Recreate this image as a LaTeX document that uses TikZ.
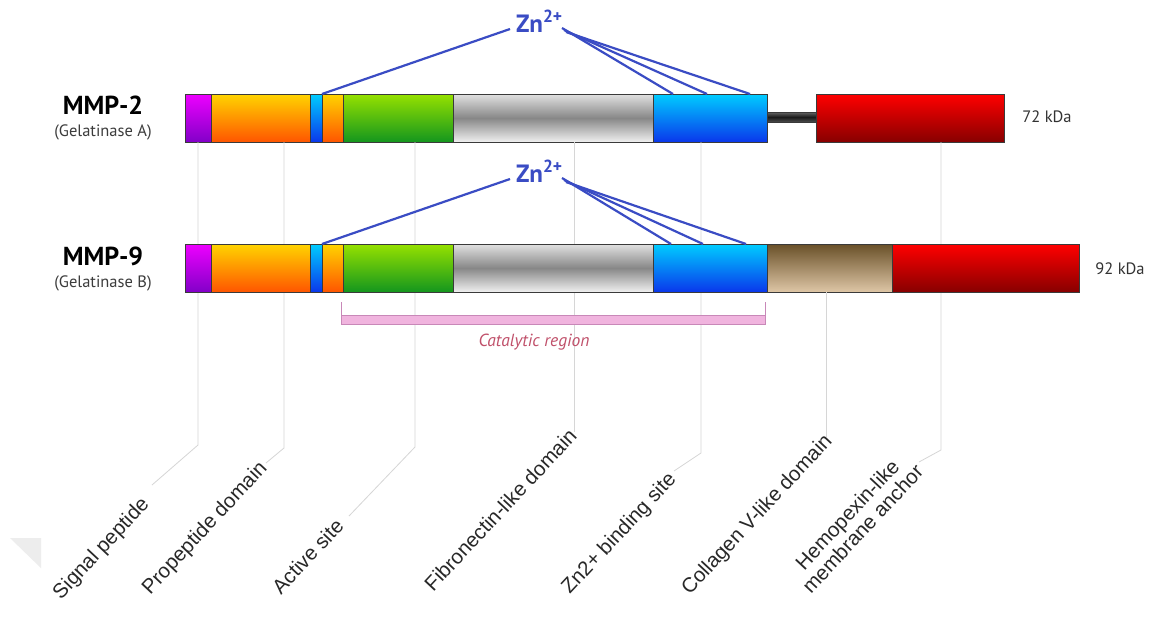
\documentclass[tikz,border=0pt]{standalone}
\usepackage{fontspec}
\usetikzlibrary{calc}
\setmainfont{PT Sans}
\newfontfamily\arialf{Liberation Sans}
\begin{document}
\definecolor{segline}{HTML}{3A3A3A}
\definecolor{znblue}{HTML}{3A4CC4}
\definecolor{leadgray}{HTML}{D6D6D6}
\definecolor{catpink}{HTML}{F0B4DE}
\definecolor{catedge}{HTML}{C888B8}
\definecolor{cattext}{HTML}{C0506A}
\begin{tikzpicture}[x=1pt,y=-1pt,
  seg/.style={draw=segline, line width=0.9pt, minimum height=48pt, inner sep=0pt, outer sep=0pt, anchor=north west},
  purp/.style={top color={rgb,255:red,238;green,0;blue,255}, bottom color={rgb,255:red,130;green,0;blue,200}},
  oran/.style={top color={rgb,255:red,255;green,212;blue,0}, bottom color={rgb,255:red,255;green,85;blue,0}},
  blu/.style={top color={rgb,255:red,0;green,205;blue,255}, bottom color={rgb,255:red,10;green,55;blue,235}},
  gre/.style={top color={rgb,255:red,150;green,225;blue,0}, bottom color={rgb,255:red,20;green,150;blue,30}},
  gra/.style={top color={rgb,255:red,225;green,225;blue,225}, bottom color={rgb,255:red,240;green,240;blue,240}, middle color={rgb,255:red,135;green,135;blue,135}},
  redc/.style={top color={rgb,255:red,255;green,0;blue,0}, bottom color={rgb,255:red,135;green,0;blue,0}},
  brow/.style={top color={rgb,255:red,105;green,80;blue,40}, bottom color={rgb,255:red,222;green,198;blue,166}},
  leader/.style={draw=leadgray, line width=0.8pt},
  znline/.style={draw=znblue, line width=2.2pt},
  lab/.style={font=\arialf\fontsize{20.5}{21}\selectfont, text={rgb,255:red,40;green,40;blue,40}, inner sep=0pt, rotate=47, anchor=base east},
  mmp/.style={font=\bfseries\fontsize{26}{26}\selectfont, inner sep=0pt},
  gel/.style={font=\fontsize{16.5}{16.5}\selectfont, text={rgb,255:red,60;green,60;blue,60}, inner sep=0pt},
  kda/.style={font=\fontsize{16.5}{17}\selectfont, text={rgb,255:red,50;green,50;blue,50}, inner sep=0pt},
  zn/.style={font=\bfseries\fontsize{25}{25}\selectfont, text=znblue, inner sep=0pt, anchor=base west}
]
\useasboundingbox (0,0) rectangle (1157,619);
\fill[white] (0,0) rectangle (1157,619);
% faint corner triangle
\fill[black!7] (10,538) -- (41,538) -- (41,568) -- cycle;

% ---------- MMP-2 bar ----------
\node[seg, purp, minimum width=26pt] (p2sig) at (185,94) {};
\node[seg, oran, minimum width=99pt] (p2pro) at (211,94) {};
\node[seg, blu, minimum width=12pt] (p2bs) at (310,94) {};
\node[seg, oran, minimum width=21pt] (p2act) at (322,94) {};
\node[seg, gre, minimum width=110pt] (p2fib) at (343,94) {};
\node[seg, gra, minimum width=200pt] (p2gray) at (453,94) {};
\node[seg, blu, minimum width=114pt] (p2zn) at (653,94) {};
\node[seg, redc, minimum width=188pt] (p2red) at (816,94) {};
\node[draw=segline, line width=0.6pt, minimum width=49pt, minimum height=10pt, inner sep=0pt, outer sep=0pt,
  top color=black!60, bottom color=black!70, middle color=black!90, anchor=west] (p2link) at (767,117) {};

% ---------- leader coordinates ----------
\coordinate (bsig) at (198,445); \coordinate (esig) at (152,485);
\coordinate (bpro) at (284,448); \coordinate (epro) at (266,463);
\coordinate (bact) at (415,447); \coordinate (eact) at (349,516);
\coordinate (efib) at (574,432);
\coordinate (bzn) at (701,453);  \coordinate (ezn) at (674,471);
\coordinate (ecol) at (826,437);
\coordinate (bhem) at (941,450); \coordinate (ehem) at (919,462);

% leaders (behind the MMP-9 bar)
\draw[leader] (bsig |- p2sig.south) -- (bsig) -- (esig);
\draw[leader] (bpro |- p2pro.south) -- (bpro) -- (epro);
\draw[leader] (bact |- p2fib.south) -- (bact) -- (eact);
\draw[leader] (efib |- p2gray.south) -- (efib);
\draw[leader] (bzn |- p2zn.south) -- (bzn) -- (ezn);
\draw[leader] (bhem |- p2red.south) -- (bhem) -- (ehem);

% ---------- MMP-9 bar ----------
\node[seg, purp, minimum width=26pt] (p9sig) at (185,244) {};
\node[seg, oran, minimum width=99pt] (p9pro) at (211,244) {};
\node[seg, blu, minimum width=12pt] (p9bs) at (310,244) {};
\node[seg, oran, minimum width=21pt] (p9act) at (322,244) {};
\node[seg, gre, minimum width=110pt] (p9fib) at (343,244) {};
\node[seg, gra, minimum width=200pt] (p9gray) at (453,244) {};
\node[seg, blu, minimum width=114pt] (p9zn) at (653,244) {};
\node[seg, brow, minimum width=125pt] (p9col) at (767,244) {};
\node[seg, redc, minimum width=187pt] (p9red) at (892,244) {};
\draw[leader] (ecol |- p9col.south) -- (ecol);

% ---------- labels ----------
\node[mmp] (n2) at (103,105) {MMP-2};
\node[gel] (g2) at (103,132) {(Gelatinase A)};
\node[mmp] (n9) at (103,256) {MMP-9};
\node[gel] (g9) at (103,283) {(Gelatinase B)};
\node[kda] (k72) at (1047,117) {72 kDa};
\node[kda] (k92) at (1120,269) {92 kDa};

% ---------- Zn2+ ----------
\node[zn] (zn2) at (516,32) {Zn\textsuperscript{2+}};
\node[zn] (zn9) at (516,182) {Zn\textsuperscript{2+}};
\coordinate (z2l) at (510,29); \coordinate (z2r) at (562,28);
\coordinate (z9l) at (510,179); \coordinate (z9r) at (562,178);
\draw[znline] (z2l) -- (p2bs.north east);
\draw[znline] (z2r) -- ($(p2zn.north west)+(20,0)$);
\draw[znline] ($(z2r)+(2,2)$) -- ($(p2zn.north west)+(54,0)$);
\draw[znline] ($(z2r)+(4,4)$) -- ($(p2zn.north west)+(97,0)$);
\draw[znline] (z9l) -- (p9bs.north east);
\draw[znline] (z9r) -- ($(p9zn.north west)+(18,0)$);
\draw[znline] ($(z9r)+(2,2)$) -- ($(p9zn.north west)+(50,0)$);
\draw[znline] ($(z9r)+(4,4)$) -- ($(p9zn.north west)+(93,0)$);

% ---------- catalytic region ----------
\node[draw=catedge, fill=catpink, line width=0.7pt, minimum width=424pt, minimum height=9pt, inner sep=0pt, anchor=north west] (cat) at (341,315) {};
\draw[catedge, line width=0.7pt] (cat.north west) -- ++(0,-13);
\draw[catedge, line width=0.7pt] (cat.north east) -- ++(0,-13);
\node[font=\itshape\fontsize{17.5}{18}\selectfont, text=cattext, inner sep=0pt] (catl) at (534,342) {Catalytic region};

% ---------- diagonal labels ----------
\node[lab] (lsig) at (150,505) {Signal peptide};
\node[lab] (lpro) at (268,469) {Propeptide domain};
\node[lab] (lact) at (345,527) {Active site};
\node[lab] (lfib) at (578,437) {Fibronectin-like domain};
\node[lab] (lzn) at (677,480) {Zn2+ binding site};
\node[lab] (lcol) at (833,442) {Collagen V-like domain};
\node[lab, anchor=south east, align=center] (lhem) at (925,473) {Hemopexin-like\\membrane anchor};
\end{tikzpicture}
\end{document}
